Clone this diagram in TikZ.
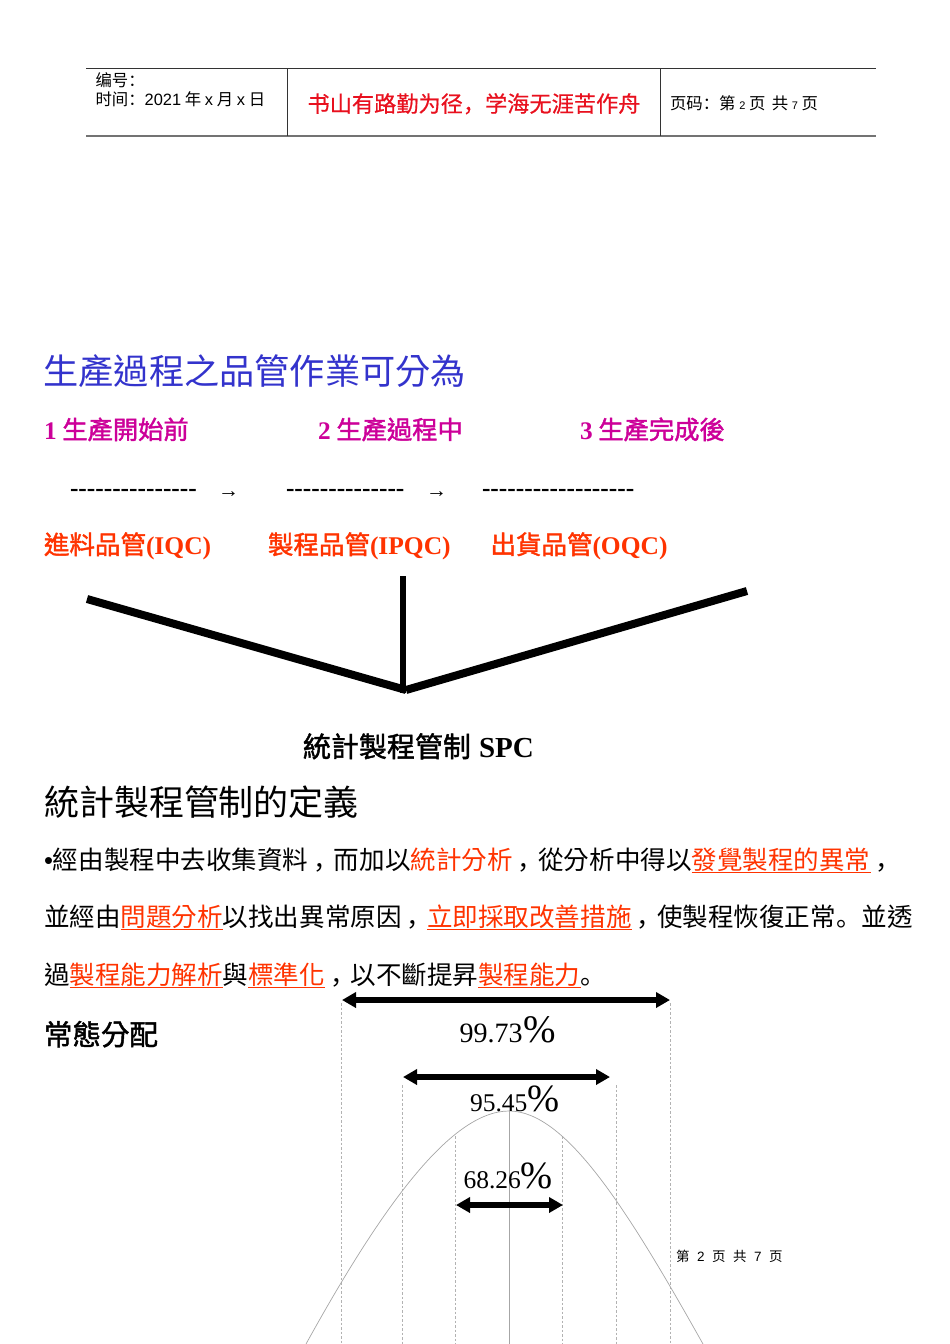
\documentclass[tikz,border=0pt]{standalone}
\usepackage{fontspec}
\usetikzlibrary{arrows.meta}
\newfontfamily\tcf{Noto Sans CJK TC}
\newfontfamily\tcb[FakeBold=1.6]{Noto Sans CJK TC}
\newfontfamily\scf{Noto Sans CJK SC}
\newfontfamily\scb[FakeBold=0.6]{Noto Sans CJK SC}
\newfontfamily\rmf{Liberation Serif}
\newfontfamily\sff{Liberation Sans}
\newcommand{\fsz}[1]{\fontsize{#1pt}{#1pt}\selectfont}
\newcommand{\orul}[1]{\textcolor{ulorange}{\underline{#1}}}
\newcommand{\fwc}{{\scf\kern.2em\symbol{"FF0C}\kern-.2em}}
\newcommand{\fwk}{{\scf\symbol{"FF1A}}}
\newcommand{\fwp}{{\scf\symbol{"3002}}}
\definecolor{ttlblue}{HTML}{3333CC}
\definecolor{stepmag}{HTML}{CC0099}
\definecolor{qcorange}{HTML}{FF3300}
\definecolor{ulorange}{HTML}{FF3300}
\definecolor{mottored}{HTML}{E8101E}
\tikzset{
 txt/.style={inner sep=0pt,outer sep=0pt,anchor=base west,text=black},
 hdrline/.style={draw=black!80,line width=0.9pt},
 vee/.style={line width=8pt,draw=black},
 spanarrow/.style={line width=5.2pt,{Triangle[length=14pt,width=15pt]}-{Triangle[length=14pt,width=15pt]}},
 guide/.style={draw=black!30,line width=0.6pt,dash pattern=on 2.5pt off 2pt},
 axisline/.style={draw=black!35,line width=0.7pt},
 bell/.style={draw=black!35,line width=0.7pt},
 hdr/.style={txt,font=\scf\fsz{16.4}},
 stepttl/.style={txt,text=stepmag,font=\tcb\fsz{25.3}},
 qc/.style={txt,text=qcorange,font=\tcb\fsz{25.5}},
 dashes/.style={txt,font=\rmf\bfseries\fsz{25.4}},
 arrowtxt/.style={txt,font=\sff\fsz{21}},
 bodytxt/.style={txt,font=\tcf\fsz{25.55}},
 bigttl/.style={txt,font=\tcf\fsz{35}},
 pct/.style={txt,font=\rmf\fsz{28}},
 pctb/.style={txt,font=\rmf\fsz{25.5}},
}
\begin{document}
\begin{tikzpicture}[x=1pt,y=-1pt]
\useasboundingbox (0,0) rectangle (950,1344);
% header
\coordinate (hTL) at (86,68.5); \coordinate (hTR) at (876,68.5);
\coordinate (hBL) at (86,136); \coordinate (hBR) at (876,136);
\coordinate (v1T) at (287.5,68.5); \coordinate (v1B) at (287.5,136);
\coordinate (v2T) at (660.5,68.5); \coordinate (v2B) at (660.5,136);
\draw[hdrline] (hTL) -- (hTR);
\draw[draw=black!55,line width=1.6pt] (hBL) -- (hBR);
\draw[hdrline] (v1T) -- (v1B);
\draw[hdrline] (v2T) -- (v2B);
\node[hdr] (bh) at (95.5,86) {编号\fwk};
\node[hdr] (sj) at (95.5,105) {时间\fwk{\sff 2021} 年 {\sff x} 月 {\sff x} 日};
\node[txt,text=mottored,font=\scb\fsz{22.2}] (motto) at (307.5,112) {书山有路勤为径{\scb\symbol{"FF0C}}学海无涯苦作舟};
\node[hdr] (ym) at (670,109) {页码\fwk 第 {\sff\fsz{11}2} 页 \,共 {\sff\fsz{11}7} 页};
% title
\node[bigttl,text=ttlblue,font=\tcf\fsz{35.2}] (ttl) at (43.5,384.5) {生產過程之品管作業可分為};
% steps
\node[stepttl] (s1) at (44,439) {{\rmf\bfseries 1} 生產開始前};
\node[stepttl] (s2) at (318,439) {{\rmf\bfseries 2} 生產過程中};
\node[stepttl] (s3) at (580,439) {{\rmf\bfseries 3} 生產完成後};
\node[dashes] (d1) at (70,496) {---------------};
\node[arrowtxt] (a1) at (218,497) {→};
\node[dashes] (d2) at (286,496) {--------------};
\node[arrowtxt] (a2) at (426,497) {→};
\node[dashes] (d3) at (482,496) {------------------};
\node[qc] (q1) at (44,554) {進料品管{\rmf\bfseries (IQC)}};
\node[qc] (q2) at (268,554) {製程品管{\rmf\bfseries (IPQC)}};
\node[qc] (q3) at (490.5,554) {出貨品管{\rmf\bfseries (OQC)}};
% vee
\coordinate (vl) at (87,599); \coordinate (vm) at (403,576); \coordinate (vr) at (747,591);
\coordinate (vj) at (406,690); \coordinate (vmb) at (403,693);
\draw[vee] (vl) -- (vj);
\draw[vee,line width=6.6pt] (vm) -- (vmb);
\draw[vee] (vr) -- (vj);
\node[txt,font=\tcb\fsz{28}] (spc) at (303,757) {統計製程管制\hspace{8pt}{\rmf\bfseries\fsz{29}SPC}};
\node[bigttl] (def) at (44,815) {統計製程管制的定義};
\node[bodytxt] (l1) at (44,869) {{\sff •}經由製程中去收集資料\fwc 而加以\textcolor{ulorange}{統計分析}\fwc 從分析中得以\orul{發覺製程的異常}\fwc};
\node[bodytxt] (l2) at (44,926) {並經由\orul{問題分析}以找出異常原因\fwc\orul{立即採取改善措施}\fwc 使製程恢復正常\fwp 並透};
\node[bodytxt] (l3) at (44,984) {過\orul{製程能力解析}與\orul{標準化}\fwc 以不斷提昇\orul{製程能力}\fwp};
\node[txt,font=\tcb\fsz{28.5}] (nd) at (44,1045) {常態分配};
% guides
\foreach \n/\x/\y in {g1/341.7/1003,g2/670.7/1003,g3/402.7/1085,g4/616.7/1085,g5/455.7/1136,g6/562.7/1136}{
  \coordinate (\n t) at (\x,\y); \coordinate (\n b) at (\x,1344);
  \draw[guide] (\n t) -- (\n b);
}
\coordinate (ct) at (509,1111); \coordinate (cb) at (509,1344);
\coordinate (bl) at (306,1344); \coordinate (br) at (703,1344);
\draw[axisline] (ct) -- (cb);
\draw[bell] (bl) .. controls (380,1210) and (450,1111) .. (ct) .. controls (565,1111) and (625,1205) .. (br);
% arrows
\coordinate (a99l) at (342,1000); \coordinate (a99r) at (670,1000);
\coordinate (a95l) at (403,1077); \coordinate (a95r) at (610,1077);
\coordinate (a68l) at (456,1205); \coordinate (a68r) at (563,1205);
\draw[spanarrow] (a99l) -- (a99r);
\draw[spanarrow] (a95l) -- (a95r);
\draw[spanarrow] (a68l) -- (a68r);
\node[pct] (p99) at (459.5,1042) {99.73{\rmf\fsz{39}\kern1pt\%}};
\node[pctb] (p95) at (470,1111) {95.45{\rmf\fsz{38.5}\%}};
\node[pctb] (p68) at (463.5,1188) {68.26{\rmf\fsz{38.5}\%}};
\node[txt,font=\scf\fsz{13.5}] (foot) at (676,1261) {第\, \,{\sff 2}\, \,页\, \,共\, \,{\sff 7}\, \,页};
\end{tikzpicture}
\end{document}
